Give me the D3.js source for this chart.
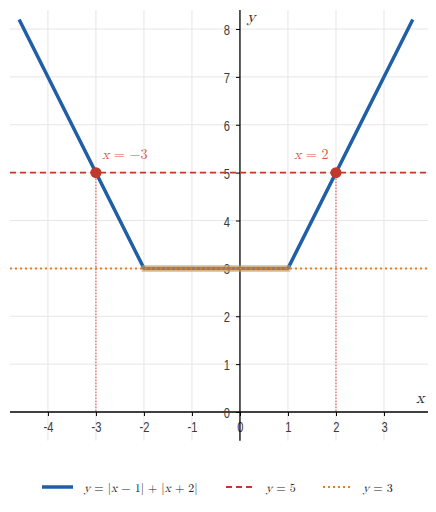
<!DOCTYPE html>
<head>
<script src="https://d3js.org/d3.v7.min.js"></script>
<style>
  body { margin: 0; background: #fff; }
  .tick text { font-family: "Liberation Sans", Arial, sans-serif; font-size: 15.5px; fill: #3a3a3a; }
  .math { font-family: "Latin Modern Math", "DejaVu Serif", "Liberation Serif", serif; }
</style>
</head>
<body>
<div id="chart"></div>
<script>
// data
var curveX = [-4.6, -2, 1, 3.6];
var curveY = curveX.map(function (v) { return Math.abs(v - 1) + Math.abs(v + 2); });
var xTicks = [-4, -3, -2, -1, 0, 1, 2, 3];
var yTicks = [0, 1, 2, 3, 4, 5, 6, 7, 8];
var hitX = [-3, 2];
var hitY = 5;
var minY = 3;
var flatRange = [-2.05, 1.05];

var width = 436, height = 512;
var svg = d3.select("#chart").append("svg")
  .attr("width", width).attr("height", height);

var x = d3.scaleLinear().domain([-4.79, 3.917]).range([10, 428]);
var y = d3.scaleLinear().domain([0, 8]).range([412, 29]);
var fmt = function (d) { return String(d); };
var squeeze = 0.72; // tick labels are a narrow face

// grid
svg.append("g").selectAll("line").data(xTicks.filter(function (d) { return d !== 0; })).enter()
  .append("line")
  .attr("x1", function (d) { return x(d); }).attr("x2", function (d) { return x(d); })
  .attr("y1", 10).attr("y2", y(-0.6))
  .attr("stroke", "#e6e6e6").attr("stroke-width", 1);
svg.append("g").selectAll("line").data(yTicks.filter(function (d) { return d !== 0; })).enter()
  .append("line")
  .attr("x1", 10).attr("x2", 428)
  .attr("y1", function (d) { return y(d); }).attr("y2", function (d) { return y(d); })
  .attr("stroke", "#e6e6e6").attr("stroke-width", 1);

// axes
var xAxis = svg.append("g").attr("transform", "translate(0," + y(0) + ")")
  .call(d3.axisBottom(x).tickValues(xTicks).tickSize(4).tickPadding(5).tickFormat(fmt));
xAxis.select(".domain").attr("d", "M10,0H428").attr("stroke", "#000").attr("stroke-width", 1.3);
xAxis.selectAll(".tick text").attr("transform", "scale(" + squeeze + ",1)");

var yAxis = svg.append("g").attr("transform", "translate(" + x(0) + ",0)")
  .call(d3.axisLeft(y).tickValues(yTicks).tickSize(4).tickPadding(6).tickFormat(fmt));
yAxis.select(".domain").attr("d", "M0,10V" + y(-0.6)).attr("stroke", "#000").attr("stroke-width", 1.3);
yAxis.selectAll(".tick text").attr("dy", "0.36em")
  .attr("x", -10 / squeeze).attr("transform", "scale(" + squeeze + ",1)");
svg.selectAll(".tick line").attr("stroke", "#000");

// axis names
svg.append("text").attr("class", "math").attr("x", 247).attr("y", 22)
  .attr("font-style", "italic").attr("font-size", 16).attr("fill", "#222").text("y");
svg.append("text").attr("class", "math").attr("x", 416).attr("y", 403)
  .attr("font-style", "italic").attr("font-size", 16).attr("fill", "#222").text("x");

// helper lines
svg.append("line").attr("x1", 10).attr("x2", 428).attr("y1", y(hitY)).attr("y2", y(hitY))
  .attr("stroke", "#c0392b").attr("stroke-width", 1.8).attr("stroke-dasharray", "6,4");

svg.selectAll(".drop").data(hitX).enter().append("line").attr("class", "drop")
  .attr("x1", function (d) { return x(d); }).attr("x2", function (d) { return x(d); })
  .attr("y1", y(hitY)).attr("y2", y(0))
  .attr("stroke", "#e0443a").attr("stroke-width", 1).attr("stroke-dasharray", "1.5,1.5");

// the function
var line = d3.line().x(function (d, i) { return x(curveX[i]); }).y(function (d) { return y(d); });
svg.append("path").datum(curveY).attr("d", line)
  .attr("fill", "none").attr("stroke", "#1f5fa8").attr("stroke-width", 3.5)
  .attr("stroke-linejoin", "round");

// min band
svg.append("line").attr("x1", x(flatRange[0])).attr("x2", x(flatRange[1]))
  .attr("y1", y(minY)).attr("y2", y(minY))
  .attr("stroke", "#e8993f").attr("stroke-width", 7).attr("stroke-opacity", 0.55);

svg.append("line").attr("x1", 10).attr("x2", 428).attr("y1", y(minY)).attr("y2", y(minY))
  .attr("stroke", "#e67e22").attr("stroke-width", 2).attr("stroke-dasharray", "2,3");

// intersection points
svg.selectAll(".pt").data(hitX).enter().append("circle").attr("class", "pt")
  .attr("cx", function (d) { return x(d); }).attr("cy", y(hitY)).attr("r", 5.5)
  .attr("fill", "#c0392b");

// labels of the points
function mathText(g, parts) {
  parts.forEach(function (p) {
    g.append("tspan").attr("font-style", p[1] ? "italic" : "normal").text(p[0]);
  });
}
var lab1 = svg.append("text").attr("class", "math").attr("x", x(-3) + 6).attr("y", y(hitY) - 14)
  .attr("font-size", 14).attr("fill", "#d9534f");
mathText(lab1, [["x", true], [" = −3", false]]);
var lab2 = svg.append("text").attr("class", "math").attr("x", x(2) - 42).attr("y", y(hitY) - 14)
  .attr("font-size", 14).attr("fill", "#d9534f");
mathText(lab2, [["x", true], [" = 2", false]]);

// legend
var leg = svg.append("g").attr("transform", "translate(0,487)");
leg.append("line").attr("x1", 42).attr("x2", 73).attr("stroke", "#1f5fa8").attr("stroke-width", 3.5);
var t1 = leg.append("text").attr("class", "math").attr("x", 84).attr("y", 5).attr("font-size", 12).attr("fill", "#222");
mathText(t1, [["y", true], [" = |", false], ["x", true], [" − 1| + |", false], ["x", true], [" + 2|", false]]);
leg.append("line").attr("x1", 226).attr("x2", 253).attr("stroke", "#c0392b").attr("stroke-width", 1.8).attr("stroke-dasharray", "6,4");
var t2 = leg.append("text").attr("class", "math").attr("x", 266).attr("y", 5).attr("font-size", 12).attr("fill", "#222");
mathText(t2, [["y", true], [" = 5", false]]);
leg.append("line").attr("x1", 323).attr("x2", 351).attr("stroke", "#e67e22").attr("stroke-width", 2).attr("stroke-dasharray", "2,3");
var t3 = leg.append("text").attr("class", "math").attr("x", 363).attr("y", 5).attr("font-size", 12).attr("fill", "#222");
mathText(t3, [["y", true], [" = 3", false]]);
</script>
</body>
